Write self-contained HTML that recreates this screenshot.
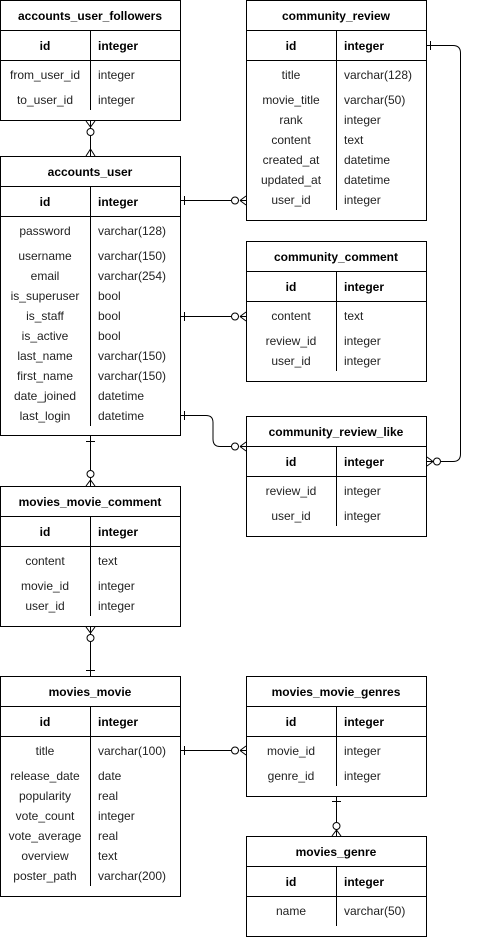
<!DOCTYPE html>
<html><head><meta charset="utf-8"><style>
html,body{margin:0;padding:0;background:#fff;}
svg{display:block;}
text{font-family:"Liberation Sans",Arial,sans-serif;font-size:12px;fill:#222;dominant-baseline:central;}
.h{font-weight:bold;fill:#000;text-anchor:middle;}
.b{font-weight:bold;fill:#000;}
.c{text-anchor:middle;}
</style></head><body>
<svg width="482" height="937" viewBox="0 0 482 937" xmlns="http://www.w3.org/2000/svg">
<g fill="none" stroke="#000" stroke-width="1">
<!-- T1 -->
<rect x="0.5" y="0.5" width="180" height="120"/><path d="M0.5 30.5H180.5M0.5 60.5H180.5M90.5 30.5V110"/>
<!-- T2 -->
<rect x="0.5" y="156.5" width="180" height="279"/><path d="M0.5 186.5H180.5M0.5 216.5H180.5M90.5 186.5V426"/>
<!-- T3 -->
<rect x="246.5" y="0.5" width="180" height="220"/><path d="M246.5 30.5H426.5M246.5 60.5H426.5M336.5 30.5V210"/>
<!-- T4 -->
<rect x="246.5" y="241.5" width="180" height="140"/><path d="M246.5 271.5H426.5M246.5 301.5H426.5M336.5 271.5V371"/>
<!-- T5 -->
<rect x="246.5" y="416.5" width="180" height="120"/><path d="M246.5 446.5H426.5M246.5 476.5H426.5M336.5 446.5V526"/>
<!-- T6 -->
<rect x="0.5" y="486.5" width="180" height="140"/><path d="M0.5 516.5H180.5M0.5 546.5H180.5M90.5 516.5V616"/>
<!-- T7 -->
<rect x="0.5" y="676.5" width="180" height="220"/><path d="M0.5 706.5H180.5M0.5 736.5H180.5M90.5 706.5V886"/>
<!-- T8 -->
<rect x="246.5" y="676.5" width="180" height="120"/><path d="M246.5 706.5H426.5M246.5 736.5H426.5M336.5 706.5V786"/>
<!-- T9 -->
<rect x="246.5" y="836.5" width="180" height="100"/><path d="M246.5 866.5H426.5M246.5 896.5H426.5M336.5 866.5V926"/>

<!-- connectors -->
<!-- T1 -> T2 -->
<path d="M90.5 121V128M86 121L90.5 127L95 121M90.5 136V156M86 156L90.5 149L95 156"/>
<circle cx="90.5" cy="132" r="3.5" fill="#fff"/>
<!-- T2 id -> T3 -->
<path d="M181 200.5H231M184.5 196V205M240 200.5L246 196M240 200.5L246 205M240 200.5H246"/>
<circle cx="235" cy="200.5" r="3.5" fill="#fff"/>
<!-- T2 is_staff -> T4 -->
<path d="M181 316.5H231M184.5 312V321M240 316.5L246 312M240 316.5L246 321M240 316.5H246"/>
<circle cx="235" cy="316.5" r="3.5" fill="#fff"/>
<!-- last_login -> T5 -->
<path d="M181 415.5H206Q213 415.5 213 422.5V439Q213 446.5 220 446.5H231M184.5 411V420M240 446.5L246 442M240 446.5L246 451M240 446.5H246"/>
<circle cx="235" cy="446.5" r="3.5" fill="#fff"/>
<!-- T3 id -> T5 id right -->
<path d="M427 45.5H453Q460.5 45.5 460.5 53V454Q460.5 461.5 453 461.5H441M430.5 41V50M433 461.5L427 457M433 461.5L427 466M433 461.5H427"/>
<circle cx="437" cy="461.5" r="3.5" fill="#fff"/>
<!-- T2 -> T6 -->
<path d="M90.5 436V470M86 441.5H95M90.5 478V486M86 486L90.5 480L95 486"/>
<circle cx="90.5" cy="474" r="3.5" fill="#fff"/>
<!-- T6 -> T7 -->
<path d="M90.5 627V634M86 627L90.5 633L95 627M90.5 642V676M86 670.5H95"/>
<circle cx="90.5" cy="638" r="3.5" fill="#fff"/>
<!-- T7 title -> T8 -->
<path d="M181 750.5H231M184.5 746V755M240 750.5L246 746M240 750.5L246 755M240 750.5H246"/>
<circle cx="235" cy="750.5" r="3.5" fill="#fff"/>
<!-- T8 -> T9 -->
<path d="M336.5 797V822M332 801.5H341M336.5 830V836M332 836L336.5 830L341 836"/>
<circle cx="336.5" cy="826" r="3.5" fill="#fff"/>
</g>

<!-- T1 text -->
<text class="h" x="90" y="16">accounts_user_followers</text>
<text class="b" x="45" y="46" text-anchor="middle">id</text><text class="b" x="98" y="46">integer</text>
<text class="c" x="45" y="75">from_user_id</text><text x="98" y="75">integer</text>
<text class="c" x="45" y="100">to_user_id</text><text x="98" y="100">integer</text>

<!-- T2 -->
<text class="h" x="90" y="172">accounts_user</text>
<text class="b" x="45" y="202" text-anchor="middle">id</text><text class="b" x="98" y="202">integer</text>
<text class="c" x="45" y="231">password</text><text x="98" y="231">varchar(128)</text>
<text class="c" x="45" y="256">username</text><text x="98" y="256">varchar(150)</text>
<text class="c" x="45" y="276">email</text><text x="98" y="276">varchar(254)</text>
<text class="c" x="45" y="296">is_superuser</text><text x="98" y="296">bool</text>
<text class="c" x="45" y="316">is_staff</text><text x="98" y="316">bool</text>
<text class="c" x="45" y="336">is_active</text><text x="98" y="336">bool</text>
<text class="c" x="45" y="356">last_name</text><text x="98" y="356">varchar(150)</text>
<text class="c" x="45" y="376">first_name</text><text x="98" y="376">varchar(150)</text>
<text class="c" x="45" y="396">date_joined</text><text x="98" y="396">datetime</text>
<text class="c" x="45" y="416">last_login</text><text x="98" y="416">datetime</text>

<!-- T3 -->
<text class="h" x="336" y="16">community_review</text>
<text class="b" x="291" y="46" text-anchor="middle">id</text><text class="b" x="344" y="46">integer</text>
<text class="c" x="291" y="75">title</text><text x="344" y="75">varchar(128)</text>
<text class="c" x="291" y="100">movie_title</text><text x="344" y="100">varchar(50)</text>
<text class="c" x="291" y="120">rank</text><text x="344" y="120">integer</text>
<text class="c" x="291" y="140">content</text><text x="344" y="140">text</text>
<text class="c" x="291" y="160">created_at</text><text x="344" y="160">datetime</text>
<text class="c" x="291" y="180">updated_at</text><text x="344" y="180">datetime</text>
<text class="c" x="291" y="200">user_id</text><text x="344" y="200">integer</text>

<!-- T4 -->
<text class="h" x="336" y="257">community_comment</text>
<text class="b" x="291" y="287" text-anchor="middle">id</text><text class="b" x="344" y="287">integer</text>
<text class="c" x="291" y="316">content</text><text x="344" y="316">text</text>
<text class="c" x="291" y="341">review_id</text><text x="344" y="341">integer</text>
<text class="c" x="291" y="361">user_id</text><text x="344" y="361">integer</text>

<!-- T5 -->
<text class="h" x="336" y="432">community_review_like</text>
<text class="b" x="291" y="462" text-anchor="middle">id</text><text class="b" x="344" y="462">integer</text>
<text class="c" x="291" y="491">review_id</text><text x="344" y="491">integer</text>
<text class="c" x="291" y="516">user_id</text><text x="344" y="516">integer</text>

<!-- T6 -->
<text class="h" x="90" y="502">movies_movie_comment</text>
<text class="b" x="45" y="532" text-anchor="middle">id</text><text class="b" x="98" y="532">integer</text>
<text class="c" x="45" y="561">content</text><text x="98" y="561">text</text>
<text class="c" x="45" y="586">movie_id</text><text x="98" y="586">integer</text>
<text class="c" x="45" y="606">user_id</text><text x="98" y="606">integer</text>

<!-- T7 -->
<text class="h" x="90" y="692">movies_movie</text>
<text class="b" x="45" y="722" text-anchor="middle">id</text><text class="b" x="98" y="722">integer</text>
<text class="c" x="45" y="751">title</text><text x="98" y="751">varchar(100)</text>
<text class="c" x="45" y="776">release_date</text><text x="98" y="776">date</text>
<text class="c" x="45" y="796">popularity</text><text x="98" y="796">real</text>
<text class="c" x="45" y="816">vote_count</text><text x="98" y="816">integer</text>
<text class="c" x="45" y="836">vote_average</text><text x="98" y="836">real</text>
<text class="c" x="45" y="856">overview</text><text x="98" y="856">text</text>
<text class="c" x="45" y="876">poster_path</text><text x="98" y="876">varchar(200)</text>

<!-- T8 -->
<text class="h" x="336" y="692">movies_movie_genres</text>
<text class="b" x="291" y="722" text-anchor="middle">id</text><text class="b" x="344" y="722">integer</text>
<text class="c" x="291" y="751">movie_id</text><text x="344" y="751">integer</text>
<text class="c" x="291" y="776">genre_id</text><text x="344" y="776">integer</text>

<!-- T9 -->
<text class="h" x="336" y="852">movies_genre</text>
<text class="b" x="291" y="882" text-anchor="middle">id</text><text class="b" x="344" y="882">integer</text>
<text class="c" x="291" y="911">name</text><text x="344" y="911">varchar(50)</text>
</svg>
</body></html>
